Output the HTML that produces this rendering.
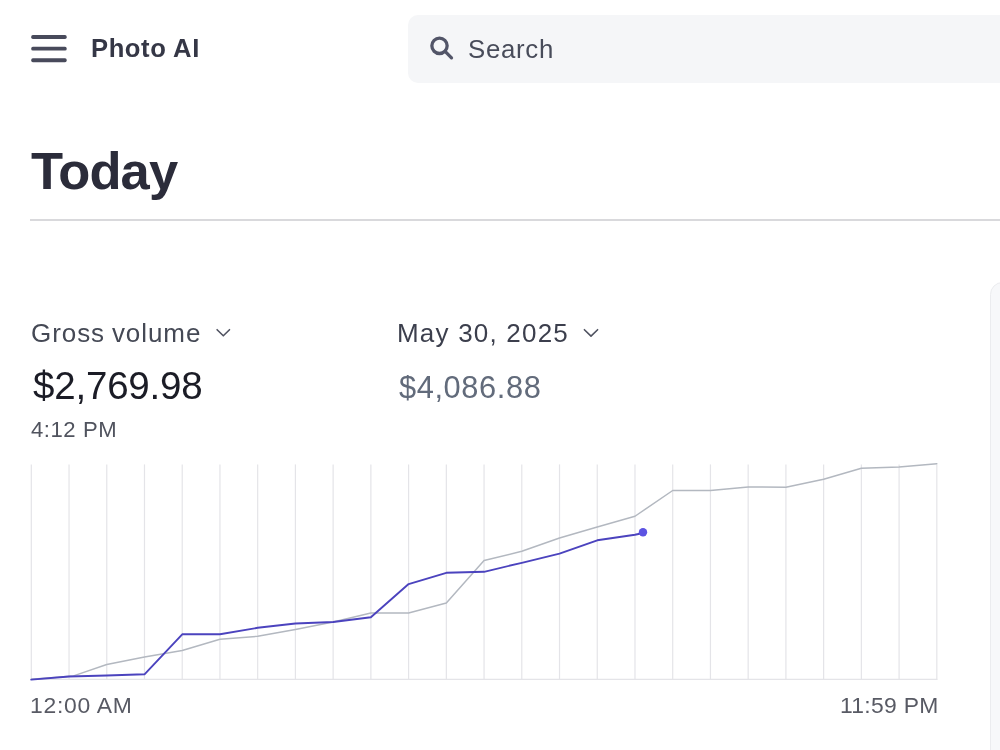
<!DOCTYPE html>
<html>
<head>
<meta charset="utf-8">
<title>Dashboard</title>
<style>
*{margin:0;padding:0;box-sizing:border-box}
html,body{width:1000px;height:750px;overflow:hidden;background:#fff}
body{font-family:"Liberation Sans",sans-serif;position:relative;color:#30313d}
.abs{position:absolute;white-space:nowrap;line-height:1;will-change:transform}
#brand{left:91.0px;top:36.23px;font-size:25.6px;letter-spacing:0.57px;font-weight:bold;color:#353746}
#search{position:absolute;left:407.6px;top:15.2px;width:620px;height:67.4px;background:#f5f6f8;border-radius:10px}
#searchtxt{left:468.2px;top:36.96px;font-size:25.8px;letter-spacing:0.7px;color:#484c5a}
#today{left:30.6px;top:144.96px;font-size:52.5px;letter-spacing:-0.9px;font-weight:bold;color:#2b2c3a}
#rule{position:absolute;left:30.4px;top:219px;width:970px;height:2px;background:#d9d9dc}
#gv{left:30.6px;top:319.79px;font-size:26px;letter-spacing:0.94px;word-spacing:-1.3px;color:#454955}
#amt{left:32.7px;top:367.11px;font-size:38.5px;letter-spacing:-0.2px;color:#1b1c26}
#tm{left:31px;top:419.29px;font-size:22.1px;letter-spacing:0.55px;color:#50535e}
#dt{left:396.6px;top:319.79px;font-size:26px;letter-spacing:1.2px;color:#3c3f4d}
#amt2{left:398.9px;top:372.83px;font-size:30.8px;letter-spacing:0.6px;color:#626b7b}
#l1{left:29.6px;top:693.62px;font-size:22.9px;letter-spacing:0.72px;color:#585a64}
#l2{right:61.6px;top:693.62px;font-size:22.9px;letter-spacing:0.3px;color:#585a64}
#panel{position:absolute;left:990.2px;top:282.2px;width:40px;height:500px;background:#f7f8fa;border:1.6px solid #ebecef;border-radius:12.5px 0 0 0}
svg{position:absolute;left:0;top:0}
</style>
</head>
<body>
<div id="search"></div>
<div id="rule"></div>
<div id="panel"></div>
<div class="abs" id="brand">Photo AI</div>
<div class="abs" id="searchtxt">Search</div>
<div class="abs" id="today">Today</div>
<div class="abs" id="gv">Gross volume</div>
<div class="abs" id="amt">$2,769.98</div>
<div class="abs" id="tm">4:12 PM</div>
<div class="abs" id="dt">May 30, 2025</div>
<div class="abs" id="amt2">$4,086.88</div>
<div class="abs" id="l1">12:00 AM</div>
<div class="abs" id="l2">11:59 PM</div>
<svg width="1000" height="750" viewBox="0 0 1000 750">
  <!-- hamburger -->
  <g fill="#484a5b">
    <rect x="31.2" y="35.05" width="35.5" height="3.9" rx="1.7"/>
    <rect x="31.2" y="46.7" width="35.5" height="3.9" rx="1.7"/>
    <rect x="31.2" y="58.25" width="35.5" height="3.9" rx="1.7"/>
  </g>
  <!-- search icon -->
  <g stroke="#525568" stroke-width="3.3" fill="none" stroke-linecap="round">
    <circle cx="439.5" cy="45.85" r="7.65"/>
    <line x1="445.1" y1="51.4" x2="451.5" y2="57.8"/>
  </g>
  <!-- chevrons -->
  <g stroke="#4f5260" stroke-width="1.6" fill="none" stroke-linecap="round" stroke-linejoin="round">
    <polyline points="217.1,329.7 223.3,335.8 229.5,329.7"/>
    <polyline points="584.4,329.7 591,336.1 597.6,329.7"/>
  </g>
  <!-- grid -->
  <g stroke="#e4e4e8" stroke-width="1.2" id="grid">
    <line x1="31.3" y1="464.4" x2="31.3" y2="679.8"/>
    <line x1="69.03" y1="464.4" x2="69.03" y2="679.8"/>
    <line x1="106.76" y1="464.4" x2="106.76" y2="679.8"/>
    <line x1="144.49" y1="464.4" x2="144.49" y2="679.8"/>
    <line x1="182.22" y1="464.4" x2="182.22" y2="679.8"/>
    <line x1="219.95" y1="464.4" x2="219.95" y2="679.8"/>
    <line x1="257.68" y1="464.4" x2="257.68" y2="679.8"/>
    <line x1="295.41" y1="464.4" x2="295.41" y2="679.8"/>
    <line x1="333.14" y1="464.4" x2="333.14" y2="679.8"/>
    <line x1="370.87" y1="464.4" x2="370.87" y2="679.8"/>
    <line x1="408.6" y1="464.4" x2="408.6" y2="679.8"/>
    <line x1="446.33" y1="464.4" x2="446.33" y2="679.8"/>
    <line x1="484.06" y1="464.4" x2="484.06" y2="679.8"/>
    <line x1="521.79" y1="464.4" x2="521.79" y2="679.8"/>
    <line x1="559.52" y1="464.4" x2="559.52" y2="679.8"/>
    <line x1="597.25" y1="464.4" x2="597.25" y2="679.8"/>
    <line x1="634.98" y1="464.4" x2="634.98" y2="679.8"/>
    <line x1="672.71" y1="464.4" x2="672.71" y2="679.8"/>
    <line x1="710.44" y1="464.4" x2="710.44" y2="679.8"/>
    <line x1="748.17" y1="464.4" x2="748.17" y2="679.8"/>
    <line x1="785.9" y1="464.4" x2="785.9" y2="679.8"/>
    <line x1="823.63" y1="464.4" x2="823.63" y2="679.8"/>
    <line x1="861.36" y1="464.4" x2="861.36" y2="679.8"/>
    <line x1="899.09" y1="464.4" x2="899.09" y2="679.8"/>
    <line x1="936.82" y1="464.4" x2="936.82" y2="679.8"/>
    <line x1="30.7" y1="679.3" x2="937.4" y2="679.3"/>
  </g>
  <!-- previous period line -->
  <polyline fill="none" stroke="#b3b8c0" stroke-width="1.5" stroke-linejoin="round" stroke-linecap="round"
    points="31.3,679.3 73.53,675.9 106.76,664.5 144.49,657 182.22,650.5 219.95,639.25 257.68,636.25 295.41,629.5 333.14,622 370.87,613 408.6,613 446.33,603 484.06,560.6 521.79,551.25 559.52,538 597.25,527 634.98,516.25 672.71,490.5 710.44,490.5 748.17,487 785.9,487.25 823.63,479.25 861.36,468.25 899.09,467 936.82,463.7"/>
  <!-- current line -->
  <polyline fill="none" stroke="#4b43be" stroke-width="1.9" stroke-linejoin="round" stroke-linecap="round"
    points="31.3,679.60 69.03,676.55 106.76,675.55 144.49,674.30 182.22,634.30 219.95,634.30 257.68,627.80 295.41,623.55 333.14,622.05 370.87,617.30 408.6,584.05 446.33,572.80 484.06,571.80 521.79,562.80 559.52,553.55 597.25,540.30 634.98,534.80 642,533.2"/>
  <circle cx="643" cy="532.3" r="4.2" fill="#5c53e2"/>
</svg>
</body>
</html>
